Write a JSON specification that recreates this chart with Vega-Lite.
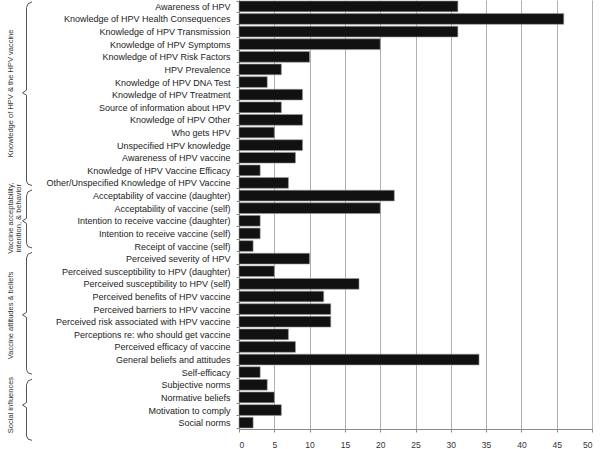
{
  "$schema": "https://vega.github.io/schema/vega-lite/v6.json",
  "padding": {"left": 2, "top": -4, "right": 4, "bottom": 0},
  "background": "white",
  "config": {"view": {"stroke": null}, "font": "Liberation Sans"},
  "spacing": 12,
  "datasets": {
    "bars": [
      {"cat": "Awareness of HPV", "n": 31},
      {"cat": "Knowledge of HPV Health Consequences", "n": 46},
      {"cat": "Knowledge of HPV Transmission", "n": 31},
      {"cat": "Knowledge of HPV Symptoms", "n": 20},
      {"cat": "Knowledge of HPV Risk Factors", "n": 10},
      {"cat": "HPV Prevalence", "n": 6},
      {"cat": "Knowledge of HPV DNA Test", "n": 4},
      {"cat": "Knowledge of HPV Treatment", "n": 9},
      {"cat": "Source of information  about HPV", "n": 6},
      {"cat": "Knowledge of HPV Other", "n": 9},
      {"cat": "Who gets HPV", "n": 5},
      {"cat": "Unspecified HPV knowledge", "n": 9},
      {"cat": "Awareness of HPV vaccine", "n": 8},
      {"cat": "Knowledge of HPV Vaccine Efficacy", "n": 3},
      {"cat": "Other/Unspecified Knowledge of HPV Vaccine", "n": 7},
      {"cat": "Acceptability of vaccine (daughter)", "n": 22},
      {"cat": "Acceptability of vaccine (self)", "n": 20},
      {"cat": "Intention to receive vaccine (daughter)", "n": 3},
      {"cat": "Intention to receive vaccine (self)", "n": 3},
      {"cat": "Receipt of vaccine (self)", "n": 2},
      {"cat": "Perceived severity of HPV", "n": 10},
      {"cat": "Perceived susceptibility to HPV (daughter)", "n": 5},
      {"cat": "Perceived susceptibility to HPV (self)", "n": 17},
      {"cat": "Perceived benefits of HPV vaccine", "n": 12},
      {"cat": "Perceived barriers to HPV vaccine", "n": 13},
      {"cat": "Perceived risk associated with HPV vaccine", "n": 13},
      {"cat": "Perceptions re: who should get vaccine", "n": 7},
      {"cat": "Perceived efficacy of vaccine", "n": 8},
      {"cat": "General beliefs and attitudes", "n": 34},
      {"cat": "Self-efficacy", "n": 3},
      {"cat": "Subjective norms", "n": 4},
      {"cat": "Normative beliefs", "n": 5},
      {"cat": "Motivation to comply", "n": 6},
      {"cat": "Social norms", "n": 2}
    ],
    "brackets": [
      {"g": 1, "o": 1, "bx": 30, "by": 0.15},
      {"g": 1, "o": 2, "bx": 26, "by": 0.3},
      {"g": 1, "o": 3, "bx": 24.5, "by": 0.6},
      {"g": 1, "o": 4, "bx": 24.5, "by": 7.15},
      {"g": 1, "o": 5, "bx": 20.5, "by": 7.35},
      {"g": 1, "o": 6, "bx": 24.5, "by": 7.55},
      {"g": 1, "o": 7, "bx": 24.5, "by": 14.35},
      {"g": 1, "o": 8, "bx": 26, "by": 14.6},
      {"g": 1, "o": 9, "bx": 30, "by": 14.7},
      {"g": 2, "o": 1, "bx": 30, "by": 15.05},
      {"g": 2, "o": 2, "bx": 26, "by": 15.2},
      {"g": 2, "o": 3, "bx": 24.5, "by": 15.5},
      {"g": 2, "o": 4, "bx": 24.5, "by": 17.3},
      {"g": 2, "o": 5, "bx": 20.5, "by": 17.5},
      {"g": 2, "o": 6, "bx": 24.5, "by": 17.7},
      {"g": 2, "o": 7, "bx": 24.5, "by": 19.3},
      {"g": 2, "o": 8, "bx": 26, "by": 19.55},
      {"g": 2, "o": 9, "bx": 30, "by": 19.65},
      {"g": 3, "o": 1, "bx": 30, "by": 20.0},
      {"g": 3, "o": 2, "bx": 26, "by": 20.15},
      {"g": 3, "o": 3, "bx": 24.5, "by": 20.45},
      {"g": 3, "o": 4, "bx": 24.5, "by": 24.75},
      {"g": 3, "o": 5, "bx": 20.5, "by": 24.95},
      {"g": 3, "o": 6, "bx": 24.5, "by": 25.15},
      {"g": 3, "o": 7, "bx": 24.5, "by": 29.3},
      {"g": 3, "o": 8, "bx": 26, "by": 29.55},
      {"g": 3, "o": 9, "bx": 30, "by": 29.65},
      {"g": 4, "o": 1, "bx": 30, "by": 30.05},
      {"g": 4, "o": 2, "bx": 26, "by": 30.2},
      {"g": 4, "o": 3, "bx": 24.5, "by": 30.5},
      {"g": 4, "o": 4, "bx": 24.5, "by": 31.9},
      {"g": 4, "o": 5, "bx": 20.5, "by": 32.1},
      {"g": 4, "o": 6, "bx": 24.5, "by": 32.3},
      {"g": 4, "o": 7, "bx": 24.5, "by": 34.55},
      {"g": 4, "o": 8, "bx": 26, "by": 34.8},
      {"g": 4, "o": 9, "bx": 30, "by": 34.9}
    ],
    "groups": [
      {"label": "Knowledge of HPV & the HPV vaccine", "gx": 9, "gy": 7.4},
      {"label": "Vaccine acceptability,\nintention, & behavior", "gx": 9, "gy": 17.3},
      {"label": "Vaccine attitudes & beliefs", "gx": 9, "gy": 25.0},
      {"label": "Social influences", "gx": 9, "gy": 32.1}
    ]
  },
  "hconcat": [
    {
      "width": 32,
      "height": 429,
      "layer": [
        {
          "data": {"name": "brackets"},
          "mark": {"type": "line", "color": "#555", "strokeWidth": 1, "clip": false},
          "encoding": {
            "x": {"field": "bx", "type": "quantitative", "scale": {"domain": [0, 32]}, "axis": null},
            "y": {"field": "by", "type": "quantitative", "scale": {"domain": [0, 34], "reverse": true, "nice": false, "zero": false}, "axis": null},
            "detail": {"field": "g"},
            "order": {"field": "o"}
          }
        },
        {
          "data": {"name": "groups"},
          "mark": {"type": "text", "angle": 270, "fontSize": 7.5, "color": "#333", "align": "center", "baseline": "middle", "lineBreak": "\n", "lineHeight": 8},
          "encoding": {
            "x": {"field": "gx", "type": "quantitative", "scale": {"domain": [0, 32]}, "axis": null},
            "y": {"field": "gy", "type": "quantitative", "scale": {"domain": [0, 34], "reverse": true, "nice": false, "zero": false}, "axis": null},
            "text": {"field": "label"}
          }
        }
      ]
    },
    {
      "width": 353,
      "height": 429,
      "data": {"name": "bars"},
      "mark": {"type": "bar", "color": "#111", "stroke": "#999", "strokeWidth": 0.6},
      "encoding": {
        "y": {
          "field": "cat", "type": "nominal", "sort": null,
          "scale": {"paddingInner": 0.15, "paddingOuter": 0.08},
          "axis": {"title": null, "tickBand": "extent", "tickSize": 3, "tickColor": "#888", "domainColor": "#888", "labelFontSize": 9, "labelColor": "#222", "labelPadding": 6, "labelLimit": 300}
        },
        "x": {
          "field": "n", "type": "quantitative",
          "scale": {"domain": [0, 50], "nice": false},
          "axis": {"title": null, "values": [0, 5, 10, 15, 20, 25, 30, 35, 40, 45, 50], "grid": true, "gridColor": "#b0b0b0", "tickSize": 3, "tickColor": "#888", "domainColor": "#888", "labelFontSize": 8.5, "labelColor": "#333", "labelPadding": 8}
        }
      }
    }
  ]
}
